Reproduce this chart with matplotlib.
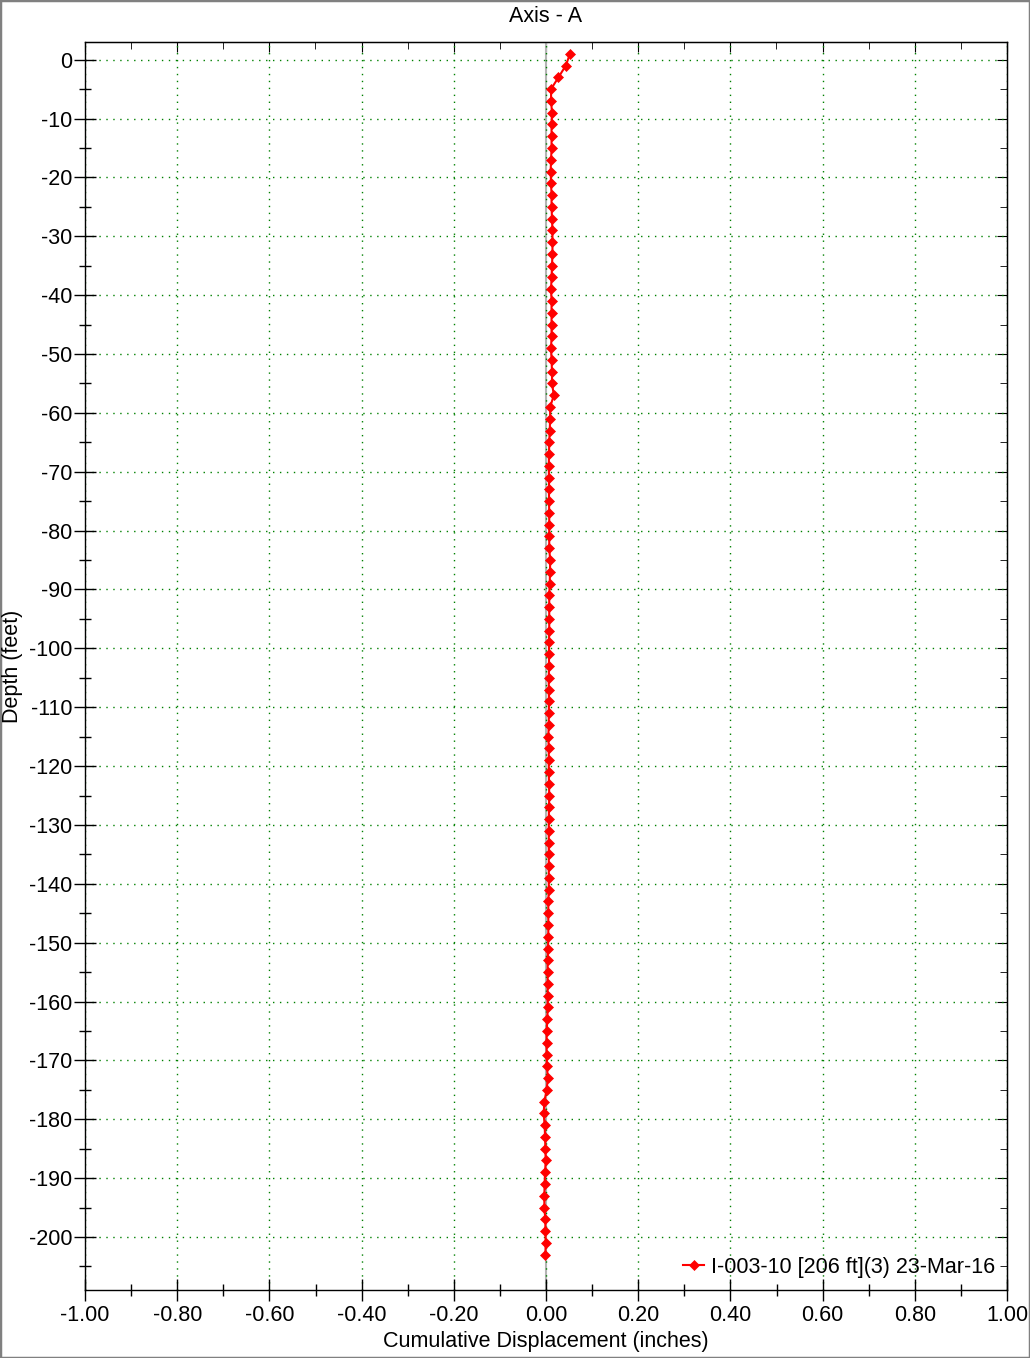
import numpy as np
import matplotlib
matplotlib.use("Agg")
import matplotlib.pyplot as plt
from matplotlib.ticker import MultipleLocator, FormatStrFormatter
from matplotlib.patches import Rectangle

plt.rcParams['font.family'] = ['Liberation Sans', 'DejaVu Sans']

# probe stations (feet) and cumulative displacement (inches)
depth = [1, -1, -3, -5, -7, -9, -11, -13, -15, -17,
         -19, -21, -23, -25, -27, -29, -31, -33, -35, -37,
         -39, -41, -43, -45, -47, -49, -51, -53, -55, -57,
         -59, -61, -63, -65, -67, -69, -71, -73, -75, -77,
         -79, -81, -83, -85, -87, -89, -91, -93, -95, -97,
         -99, -101, -103, -105, -107, -109, -111, -113, -115, -117,
         -119, -121, -123, -125, -127, -129, -131, -133, -135, -137,
         -139, -141, -143, -145, -147, -149, -151, -153, -155, -157,
         -159, -161, -163, -165, -167, -169, -171, -173, -175, -177,
         -179, -181, -183, -185, -187, -189, -191, -193, -195, -197,
         -199, -201, -203]
disp = [0.052, 0.043, 0.027, 0.011, 0.011, 0.013, 0.012, 0.012, 0.012, 0.011,
        0.010, 0.011, 0.012, 0.012, 0.013, 0.014, 0.014, 0.014, 0.013, 0.012,
        0.011, 0.012, 0.012, 0.012, 0.012, 0.011, 0.012, 0.013, 0.013, 0.017,
        0.009, 0.009, 0.008, 0.007, 0.0065, 0.006, 0.0065, 0.0065, 0.0065, 0.007,
        0.007, 0.007, 0.007, 0.009, 0.0087, 0.008, 0.007, 0.007, 0.007, 0.007,
        0.0065, 0.0065, 0.0065, 0.006, 0.006, 0.0065, 0.006, 0.006, 0.005, 0.006,
        0.006, 0.006, 0.0065, 0.007, 0.0065, 0.006, 0.006, 0.006, 0.006, 0.006,
        0.006, 0.006, 0.005, 0.005, 0.005, 0.005, 0.0043, 0.0036, 0.0036, 0.0036,
        0.0036, 0.0036, 0.003, 0.0014, 0.0014, 0.0014, 0.002, 0.004, 0.0014, -0.0036,
        -0.005, -0.003, -0.002, -0.0014, -0.0007, -0.002, -0.003, -0.0036, -0.0036, -0.0014,
        -0.0014, -0.0007, -0.0014]
series_label = "I-003-10 [206 ft](3) 23-Mar-16"

W, H = 1030, 1358
fig = plt.figure(figsize=(W / 100, H / 100), dpi=100)
ax = fig.add_axes([85 / W, 1 - 1290 / H, 922 / W, 1248 / H])

fs = 15.5
grid_kw = dict(color='#008000', linestyle=(0, (1, 4)), linewidth=1.0)

ax.axvline(0, color='#b4b4b4', linewidth=1.5, zorder=1)
ax.plot(disp, depth, color='red', linewidth=1.5, marker='D', markersize=5.5,
        markeredgewidth=0.5, label=series_label, zorder=3)

ax.set_xlim(-1, 1)
ax.set_ylim(-209, 3)
ax.xaxis.set_major_locator(MultipleLocator(0.2))
ax.xaxis.set_minor_locator(MultipleLocator(0.1))
ax.yaxis.set_major_locator(MultipleLocator(10))
ax.yaxis.set_minor_locator(MultipleLocator(5))
ax.xaxis.set_major_formatter(FormatStrFormatter('%.2f'))
ax.yaxis.set_major_formatter(FormatStrFormatter('%d'))
ax.grid(True, which='major', **grid_kw)

ax.tick_params(which='major', direction='inout', length=16, width=1,
               labelsize=fs, pad=3)
ax.tick_params(axis='y', which='major', pad=1)
ax.tick_params(which='minor', direction='inout', length=9, width=1)

# inward ticks on top and right
sx = ax.secondary_xaxis('top')
sx.xaxis.set_major_locator(MultipleLocator(0.2))
sx.xaxis.set_minor_locator(MultipleLocator(0.1))
sx.tick_params(which='major', direction='in', length=7, labeltop=False)
sx.tick_params(which='minor', direction='in', length=5)
sy = ax.secondary_yaxis('right')
sy.yaxis.set_major_locator(MultipleLocator(10))
sy.yaxis.set_minor_locator(MultipleLocator(5))
sy.tick_params(which='major', direction='in', length=7, labelright=False)
sy.tick_params(which='minor', direction='in', length=5)

for sp in ax.spines.values():
    sp.set_linewidth(1)

ax.legend(loc='center right', bbox_to_anchor=(0.987, 0.0184), frameon=False,
          fontsize=fs, handlelength=1.0, handletextpad=0.3, borderpad=0,
          borderaxespad=0)

fig.text(546 / W, 1 - 17 / H, "Axis - A", ha='center', va='center', fontsize=fs)
fig.text(546 / W, 1 - 1342 / H, "Cumulative Displacement (inches)",
         ha='center', va='center', fontsize=fs)
fig.text(13 / W, 1 - 666 / H, "Depth (feet)", ha='center', va='center',
         rotation=90, fontsize=fs)

fig.patches.append(Rectangle((0, 0), 1, 1, transform=fig.transFigure,
                             fill=False, edgecolor='#808080', linewidth=2.5))

fig.savefig("out.png", dpi=100)
